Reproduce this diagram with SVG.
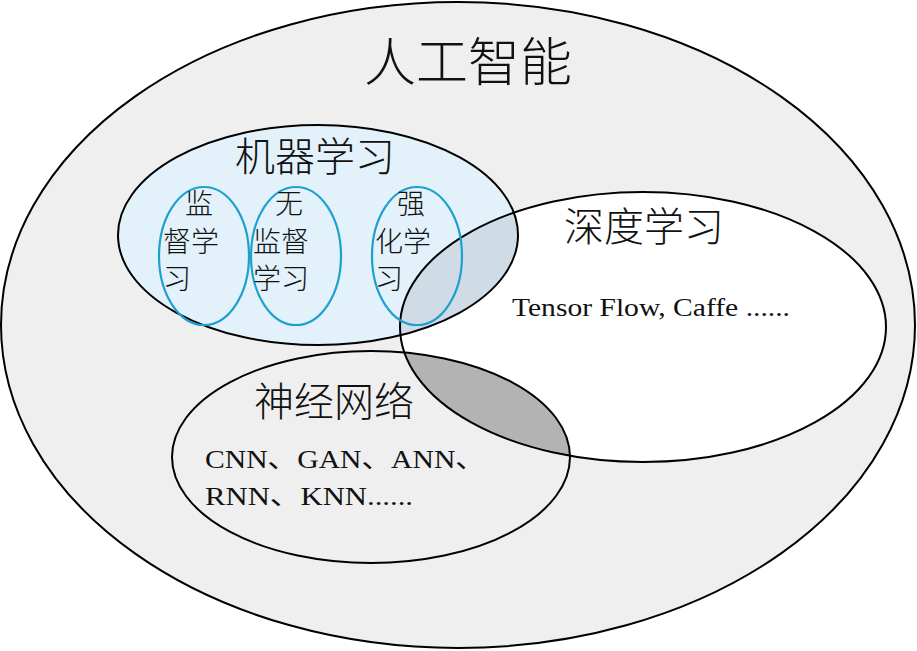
<svg xmlns="http://www.w3.org/2000/svg" width="917" height="651" viewBox="0 0 917 651">
<style>
.o{fill:none;stroke:#000;stroke-width:2}
.b{fill:none;stroke:#1ea0cf;stroke-width:2.2}
.cjk{font-family:"Noto Sans CJK SC","Noto Sans CJK JP",sans-serif;fill:#111;font-weight:300}
.sm{font-size:28px}
.lat{font-family:"Liberation Serif","Noto Sans CJK SC",serif;fill:#111}
</style>
<defs>
<clipPath id="cML"><ellipse cx="318" cy="235" rx="200" ry="110"/></clipPath>
<clipPath id="cDL"><ellipse cx="643" cy="327" rx="243" ry="135"/></clipPath>
</defs>
<rect width="917" height="651" fill="#fff"/>
<g id="ai">
<ellipse cx="458" cy="325" rx="457" ry="323" fill="#efefef" stroke="#000" stroke-width="2"/>
<text class="cjk" x="468" y="81" font-size="52" text-anchor="middle">人工智能</text>
</g>
<g id="ml">
<ellipse cx="318" cy="235" rx="200" ry="110" fill="#e2f1fa"/>
</g>
<g id="dl">
<ellipse cx="643" cy="327" rx="243" ry="135" fill="#fff"/>
<ellipse cx="643" cy="327" rx="243" ry="135" fill="#cfdce6" clip-path="url(#cML)"/>
</g>
<g id="nn">
<ellipse cx="371" cy="457" rx="199" ry="106" fill="#efefef"/>
<ellipse cx="371" cy="457" rx="199" ry="106" fill="#b3b3b3" clip-path="url(#cDL)"/>
</g>
<g id="outlines">
<ellipse class="o" cx="318" cy="235" rx="200" ry="110"/>
<ellipse class="o" cx="643" cy="327" rx="243" ry="135"/>
<ellipse class="o" cx="371" cy="457" rx="199" ry="106"/>
</g>
<g id="ml-label"><text class="cjk" x="315" y="171" font-size="40" text-anchor="middle">机器学习</text></g>
<g id="dl-label">
<text class="cjk" x="644" y="241" font-size="40" text-anchor="middle">深度学习</text>
<text class="lat" x="512" y="316" font-size="26" textLength="278" lengthAdjust="spacingAndGlyphs">Tensor Flow, Caffe ......</text>
</g>
<g id="nn-label">
<text class="cjk" x="334" y="416" font-size="40" text-anchor="middle">神经网络</text>
<text class="lat" x="205" y="468" font-size="26" textLength="280" lengthAdjust="spacingAndGlyphs">CNN、GAN、ANN、</text>
<text class="lat" x="205" y="505" font-size="26" textLength="208" lengthAdjust="spacingAndGlyphs">RNN、KNN......</text>
</g>
<g id="supervised">
<ellipse class="b" cx="204" cy="256" rx="45" ry="69"/>
<text class="cjk sm" x="185" y="214">监</text>
<text class="cjk sm" x="163" y="252">督学</text>
<text class="cjk sm" x="163" y="289">习</text>
</g>
<g id="unsupervised">
<ellipse class="b" cx="296" cy="256" rx="45" ry="69"/>
<text class="cjk sm" x="275" y="214">无</text>
<text class="cjk sm" x="253" y="252">监督</text>
<text class="cjk sm" x="253" y="289">学习</text>
</g>
<g id="reinforcement">
<ellipse class="b" cx="417" cy="256" rx="45" ry="69"/>
<text class="cjk sm" x="397" y="214">强</text>
<text class="cjk sm" x="375" y="252">化学</text>
<text class="cjk sm" x="375" y="289">习</text>
</g>
</svg>
